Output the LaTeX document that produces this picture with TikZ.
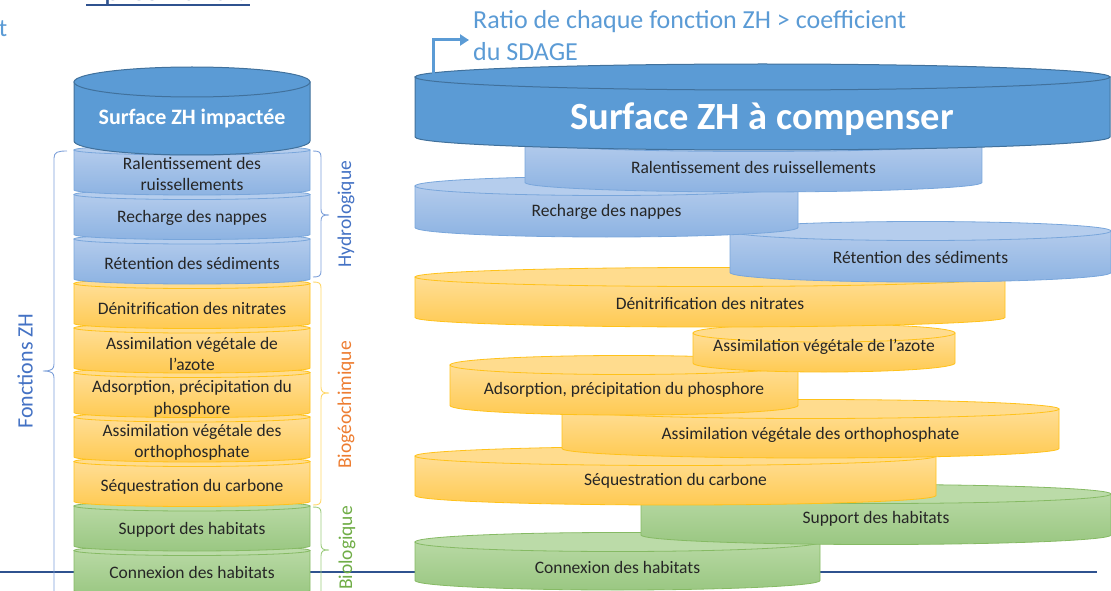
\documentclass[tikz,border=0pt]{standalone}
\usepackage{fontspec}
\setmainfont{Carlito}
\usetikzlibrary{arrows.meta}
\definecolor{txt}{HTML}{262626}
\definecolor{mainF}{HTML}{5B9BD5}
\definecolor{mainD}{HTML}{41719C}
\definecolor{bluT}{HTML}{B3CBEC}
\definecolor{bluB}{HTML}{8DB3E2}
\definecolor{bluE}{HTML}{B5CDED}
\definecolor{bluD}{HTML}{79A6DB}
\definecolor{oraT}{HTML}{FFDE96}
\definecolor{oraB}{HTML}{FFCA52}
\definecolor{oraE}{HTML}{FFDC8E}
\definecolor{oraD}{HTML}{FFC21A}
\definecolor{greT}{HTML}{B8D9A4}
\definecolor{greB}{HTML}{9AC782}
\definecolor{greE}{HTML}{BBDBA8}
\definecolor{greD}{HTML}{86BA64}
\definecolor{hydro}{HTML}{4472C4}
\definecolor{bioc}{HTML}{ED7D31}
\definecolor{biol}{HTML}{70AD47}
\definecolor{bracebl}{HTML}{7C9FD9}
\definecolor{braceor}{HTML}{FFD666}
\definecolor{bracegr}{HTML}{9CCB7E}
\definecolor{navy}{HTML}{2F528F}
\definecolor{ratio}{HTML}{5B9BD5}
\newcommand\mydisc[9]{%
  % #1 xl  #2 xr  #3 top centre y  #4 height  #5 ry  #6 colour prefix  #7 name  #8 text y  #9 text
  \path[shade, top color=#6T, bottom color=#6B, draw=#6D, line width=0.8pt]
    (#1,#3) -- (#1,#3+#4) arc[start angle=180, end angle=0, x radius={(#2-#1)/2}, y radius=#5] -- (#2,#3) -- cycle;
  \path[fill=#6E, draw=#6D, line width=0.8pt] ({(#1+#2)/2},#3) ellipse[x radius={(#2-#1)/2}, y radius=#5];
  \node[lbl] (#7) at ({(#1+#2)/2},#8) {#9};
}
\newcommand\rbr[5]{%
  \draw[#5, line width=0.9pt] (#1-8,#2) .. controls (#1-2,#2) and (#1,#2+1) .. (#1,#2+6) -- (#1,#3-6)
    .. controls (#1,#3-1) and (#1+2,#3) .. (#1+8,#3) .. controls (#1+2,#3) and (#1,#3+1) .. (#1,#3+6)
    -- (#1,#4-6) .. controls (#1,#4-1) and (#1-2,#4) .. (#1-8,#4);
}
\begin{document}
\begin{tikzpicture}[x=1pt,y=-1pt,
  lbl/.style={font=\fontsize{17.5}{21.5}\selectfont, text=txt, align=center, inner sep=0pt},
  sidelbl/.style={font=\fontsize{19.5}{22}\selectfont, rotate=90, inner sep=0pt}]
\useasboundingbox (0,0) rectangle (1111,591);
\clip (0,0) rectangle (1111,591);

% top texts (partly cut off by the picture's edge, as in the original)
\node[anchor=base west, inner sep=0pt, text=navy, font=\fontsize{31}{36}\selectfont] (apres) at (86,0.8) {Après 2020 ?};
\draw[navy, line width=2pt] (apres.base west |- 0,5) -- (250,5);
\node[anchor=base east, inner sep=0pt, text=ratio, font=\fontsize{25}{30}\selectfont] (tcut) at (7.5,37) {t};

% baseline
\coordinate (hl) at (0,572);
\coordinate (hr) at (1097,572);
\draw[navy, line width=1.6pt] (hl) -- (hr);

% right discs, bottom to top
\mydisc{415}{820}{542}{38.5}{9.5}{gre}{r10}{567}{Connexion des habitats}
\mydisc{641}{1111}{494}{41}{9.5}{gre}{r9}{519}{Support des habitats}
\mydisc{415}{936}{456}{39.5}{9.5}{ora}{r8}{481}{Séquestration du carbone}
\mydisc{562}{1059}{409}{39.5}{9.5}{ora}{r7}{435}{Assimilation végétale des orthophosphate}
\mydisc{450}{798}{365}{40.5}{9.5}{ora}{r6}{390}{Adsorption, précipitation du phosphore}
\mydisc{693}{955}{333}{30}{9}{ora}{r5}{347}{Assimilation végétale de l’azote}
\mydisc{415}{1005}{277}{40.5}{9.5}{ora}{r4}{303}{Dénitrification des nitrates}
\mydisc{730}{1111}{231}{41.5}{9.5}{blu}{r3}{257}{Rétention des sédiments}
\mydisc{415}{798}{186}{41.5}{9.5}{blu}{r2}{212}{Recharge des nappes}
\mydisc{525}{982}{142}{40.5}{9.5}{blu}{r1}{167}{Ralentissement des ruissellements}

% big right cylinder
\path[fill=mainF, draw=mainD, line width=1pt]
  (415,77) -- (415,137) arc[start angle=180, end angle=0, x radius=347.5, y radius=13] -- (1110,77) -- cycle;
\path[fill=mainF, draw=mainD, line width=1pt] (762.5,77) ellipse[x radius=347.5, y radius=13];
\node[font=\bfseries\fontsize{38.5}{44}\selectfont, text=white, inner sep=0pt] (comp) at (762,119) {Surface ZH à compenser};

% arrow and ratio text
\coordinate (a0) at (433,76);
\coordinate (a1) at (433,40);
\coordinate (a2) at (469,40);
\draw[ratio, line width=3pt, -{Triangle[length=9pt,width=11pt]}] (a0) -- (a1) -- (a2);
\node[anchor=north west, inner sep=0pt, text=ratio, align=left, font=\fontsize{26}{32}\selectfont] (ratio) at (473,10) {Ratio de chaque fonction ZH > coefficient\\du SDAGE};

% left stack, bottom to top
\mydisc{74}{310}{550.5}{40}{5}{gre}{l10}{572}{Connexion des habitats}
\mydisc{74}{310}{506}{40}{5}{gre}{l9}{530}{Support des habitats}
\mydisc{74}{310}{461.5}{40}{5}{ora}{l8}{487}{Séquestration du carbone}
\mydisc{74}{310}{417}{40}{5}{ora}{l7}{442.5}{Assimilation végétale des\\orthophosphate}
\mydisc{74}{310}{372.5}{40}{5}{ora}{l6}{399}{Adsorption, précipitation du\\phosphore}
\mydisc{74}{310}{328}{40}{5}{ora}{l5}{354}{Assimilation végétale de\\l’azote}
\mydisc{74}{310}{283.5}{40}{5}{ora}{l4}{308}{Dénitrification des nitrates}
\mydisc{74}{310}{239}{40}{5}{blu}{l3}{263}{Rétention des sédiments}
\mydisc{74}{310}{194.5}{40}{5}{blu}{l2}{218}{Recharge des nappes}
\mydisc{74}{310}{150}{40}{5}{blu}{l1}{174}{Ralentissement des\\ruissellements}

% big left cylinder
\path[fill=mainF, draw=mainD, line width=1pt]
  (74,82) -- (74,141) arc[start angle=180, end angle=0, x radius=118, y radius=14] -- (310,82) -- cycle;
\path[fill=mainF, draw=mainD, line width=1pt] (192,82) ellipse[x radius=118, y radius=15];
\node[font=\bfseries\fontsize{22}{26}\selectfont, text=white, inner sep=0pt] (imp) at (192,119) {Surface ZH impactée};

% braces
\draw[bracebl, line width=0.9pt] (67,151) .. controls (58,151) and (54,152) .. (54,158) -- (54,364)
  .. controls (54,369) and (52,371) .. (43,371) .. controls (52,371) and (54,373) .. (54,378) -- (54,600);
\rbr{321}{151}{215}{277}{bracebl}
\rbr{321}{282}{393}{505}{braceor}
\rbr{321}{507}{550}{640}{bracegr}

% side labels
\node[sidelbl, text=hydro] (hyd) at (346,214) {Hydrologique};
\node[sidelbl, text=bioc] (bgc) at (346,405) {Biogéochimique};
\node[sidelbl, text=biol] (bio) at (347,548) {Biologique};
\node[font=\fontsize{22}{26}\selectfont, rotate=90, text=hydro, inner sep=0pt] (fzh) at (25,371) {Fonctions ZH};
\end{tikzpicture}
\end{document}
